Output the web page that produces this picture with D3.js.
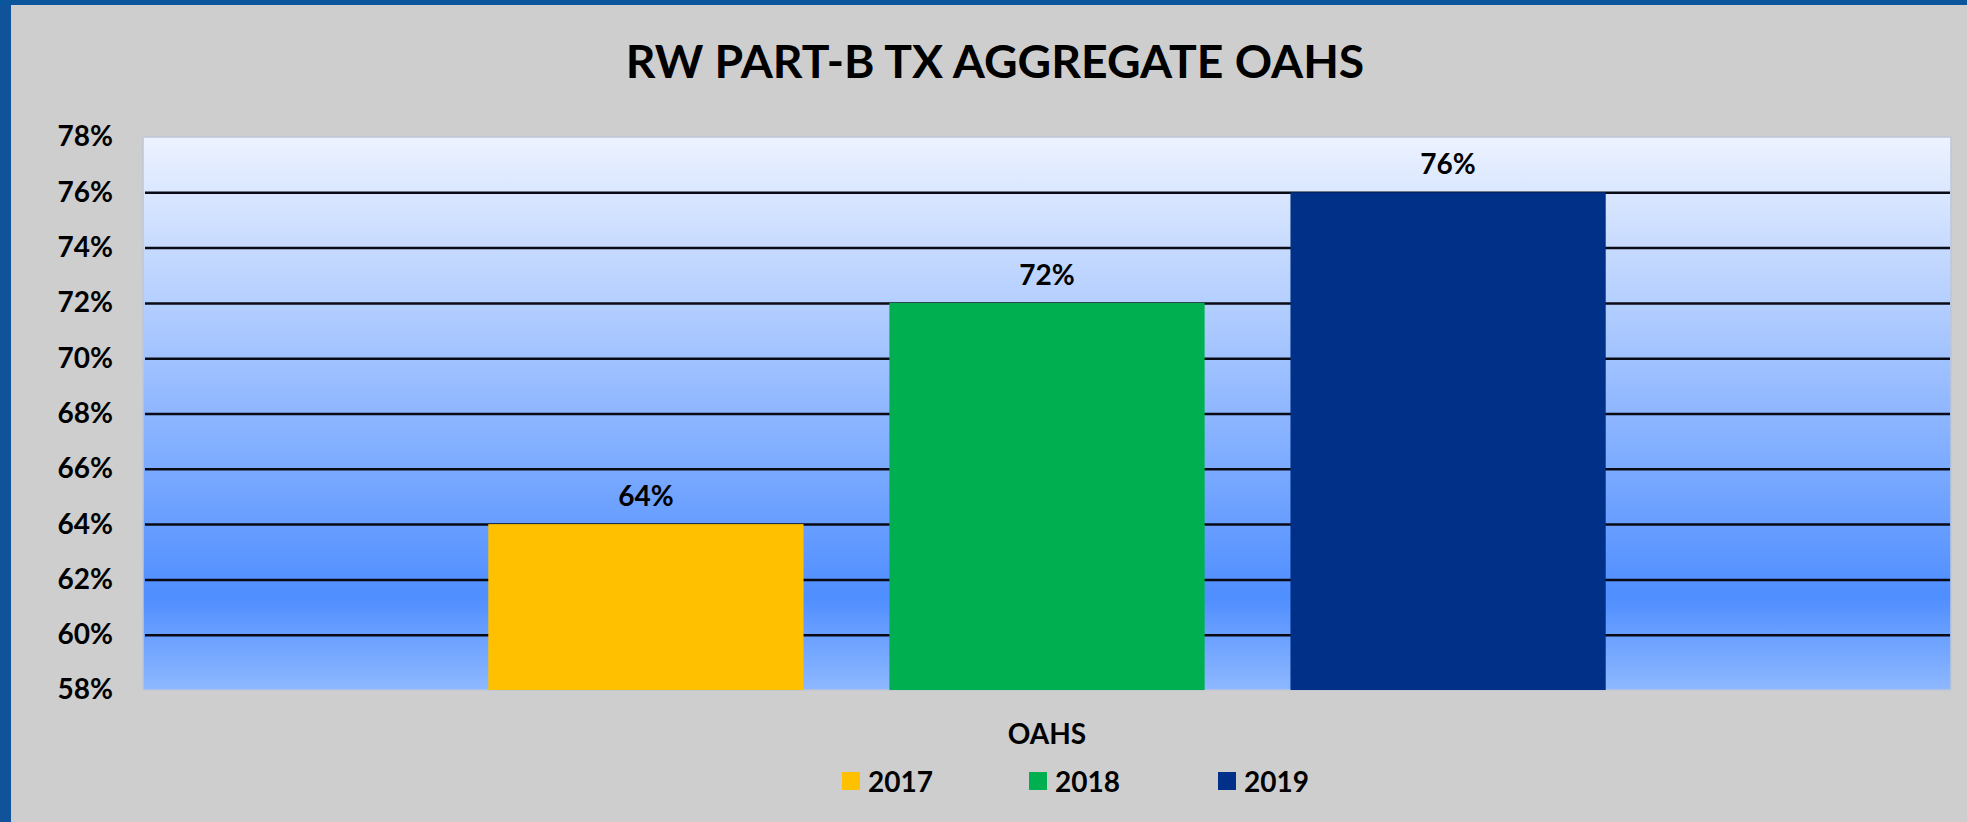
<!DOCTYPE html>
<html>
<head>
<meta charset="utf-8">
<script src="https://cdn.jsdelivr.net/npm/d3@7"></script>
<style>
  html, body { margin: 0; padding: 0; background: #CECECE; }
  svg { display: block; }
  text { font-family: Lato, "Open Sans", sans-serif; font-weight: 700; fill: #000; }
</style>
</head>
<body>
<svg id="chart" width="1967" height="822"></svg>
<script>
// ---- data ----
const title = "RW PART-B TX AGGREGATE OAHS";
const categories = ["OAHS"];
const seriesNames = ["2017", "2018", "2019"];
const seriesValues = [[64], [72], [76]];   // per series, per category (%)
const seriesColors = ["#FFC000", "#00B050", "#003087"];
const yTicks = [58, 60, 62, 64, 66, 68, 70, 72, 74, 76, 78];

const W = 1967, H = 822;
const plot = { left: 143, top: 137, right: 1951, bottom: 690 };

const svg = d3.select("#chart");

// background + frame
svg.append("rect").attr("x", 0).attr("y", 0).attr("width", W).attr("height", H).attr("fill", "#CECECE");
svg.append("rect").attr("x", 0).attr("y", 0).attr("width", 11).attr("height", H).attr("fill", "#10539A");
svg.append("rect").attr("x", 0).attr("y", 0).attr("width", W).attr("height", 5).attr("fill", "#0B559C");

// gradient
const defs = svg.append("defs");
const grad = defs.append("linearGradient").attr("id", "plotGrad")
  .attr("x1", 0).attr("y1", 0).attr("x2", 0).attr("y2", 1);
grad.append("stop").attr("offset", "0").attr("stop-color", "#EDF3FF");
grad.append("stop").attr("offset", "0.83").attr("stop-color", "#4F8EFF");
grad.append("stop").attr("offset", "1").attr("stop-color", "#8EB8FF");

svg.append("rect")
  .attr("x", plot.left).attr("y", plot.top)
  .attr("width", plot.right - plot.left).attr("height", plot.bottom - plot.top)
  .attr("fill", "url(#plotGrad)")
  .attr("stroke", "#BFC6D6").attr("stroke-width", 1.5);

// scales
const y = d3.scaleLinear().domain([58, 78]).range([plot.bottom, plot.top]);
const x0 = d3.scaleBand().domain(categories).range([plot.left, plot.right])
  .paddingInner(0).paddingOuter(0.309);
const x1 = d3.scaleBand().domain(seriesNames).range([0, x0.bandwidth()])
  .paddingInner(0.214).paddingOuter(0);

// gridlines
const grid = svg.append("g")
  .attr("transform", `translate(${plot.left + 2},0)`)
  .call(d3.axisLeft(y).tickValues(yTicks.filter(t => t > 58 && t < 78))
    .tickSize(-(plot.right - plot.left - 3)).tickFormat(""));
grid.select(".domain").remove();
grid.selectAll(".tick line").attr("stroke", "#0A0A14").attr("stroke-width", 2.5);

// y axis labels
const yAxis = svg.append("g")
  .attr("transform", `translate(${plot.left},0)`)
  .call(d3.axisLeft(y).tickValues(yTicks).tickSize(0).tickPadding(30).tickFormat(d => d + "%"));
yAxis.select(".domain").remove();
yAxis.selectAll(".tick text")
  .style("font-family", "Lato, sans-serif").style("font-weight", 700)
  .style("font-size", "28px").attr("fill", "#000");

// bars
const groups = svg.append("g").selectAll("g")
  .data(categories).join("g")
  .attr("transform", d => `translate(${x0(d)},0)`);

seriesNames.forEach((s, si) => {
  groups.append("rect")
    .attr("x", x1(s))
    .attr("y", (d, ci) => y(seriesValues[si][ci]))
    .attr("width", x1.bandwidth())
    .attr("height", (d, ci) => y(58) - y(seriesValues[si][ci]))
    .attr("fill", seriesColors[si]);
  groups.append("text")
    .attr("x", x1(s) + x1.bandwidth() / 2)
    .attr("y", (d, ci) => y(seriesValues[si][ci]) - 29)
    .attr("text-anchor", "middle").attr("dominant-baseline", "central")
    .style("font-size", "28px")
    .text((d, ci) => seriesValues[si][ci] + "%");
});

// category axis label
svg.append("text")
  .attr("x", x0(categories[0]) + x0.bandwidth() / 2).attr("y", 733)
  .attr("text-anchor", "middle").attr("dominant-baseline", "central")
  .style("font-size", "28px").text(categories[0]);

// title
svg.append("text")
  .attr("x", 995).attr("y", 60)
  .attr("text-anchor", "middle").attr("dominant-baseline", "central")
  .style("font-size", "46.3px").text(title);

// legend
const legendX = [842, 1029, 1218];
const legend = svg.append("g").selectAll("g").data(seriesNames).join("g")
  .attr("transform", (d, i) => `translate(${legendX[i]},781)`);
legend.append("rect").attr("x", 0).attr("y", -9).attr("width", 18).attr("height", 18)
  .attr("fill", (d, i) => seriesColors[i]);
legend.append("text").attr("x", 26).attr("y", 0).attr("dominant-baseline", "central")
  .style("font-size", "28px").text(d => d);
</script>
</body>
</html>
